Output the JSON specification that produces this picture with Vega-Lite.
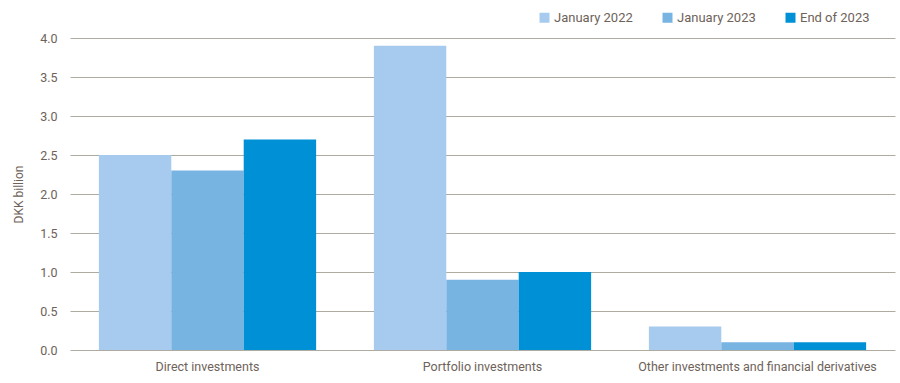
{
  "$schema": "https://vega.github.io/schema/vega-lite/v6.json",
  "width": 825,
  "height": 312,
  "autosize": {"type": "none"},
  "padding": {"left": 70, "top": 38, "right": 5, "bottom": 33},
  "background": "white",
  "config": {
    "view": {"stroke": null},
    "font": "Roboto"
  },
  "data": {
    "values": [
      {"category": "Direct investments", "series": "January 2022", "value": 2.5},
      {"category": "Direct investments", "series": "January 2023", "value": 2.3},
      {"category": "Direct investments", "series": "End of 2023", "value": 2.7},
      {"category": "Portfolio investments", "series": "January 2022", "value": 3.9},
      {"category": "Portfolio investments", "series": "January 2023", "value": 0.9},
      {"category": "Portfolio investments", "series": "End of 2023", "value": 1.0},
      {"category": "Other investments and financial derivatives", "series": "January 2022", "value": 0.3},
      {"category": "Other investments and financial derivatives", "series": "January 2023", "value": 0.1},
      {"category": "Other investments and financial derivatives", "series": "End of 2023", "value": 0.1}
    ]
  },
  "mark": {"type": "bar"},
  "encoding": {
    "x": {
      "field": "category",
      "type": "nominal",
      "sort": null,
      "scale": {"paddingInner": 0.21, "paddingOuter": 0.105},
      "axis": {
        "title": null,
        "labelAngle": 0,
        "domain": false,
        "ticks": false,
        "labelPadding": 10,
        "labelFontSize": 12.5,
        "labelColor": "#6e6259",
        "labelLimit": 400
      }
    },
    "xOffset": {
      "field": "series",
      "type": "nominal",
      "sort": ["January 2022", "January 2023", "End of 2023"],
      "scale": {"paddingInner": 0, "paddingOuter": 0}
    },
    "y": {
      "field": "value",
      "type": "quantitative",
      "scale": {"domain": [0, 4], "nice": false},
      "axis": {
        "title": "DKK billion",
        "titleFontSize": 12,
        "titleFontWeight": "normal",
        "titleColor": "#6e6259",
        "titlePadding": 14,
        "values": [0, 0.5, 1, 1.5, 2, 2.5, 3, 3.5, 4],
        "format": ".1f",
        "domain": false,
        "ticks": false,
        "labelPadding": 13,
        "labelFontSize": 12.5,
        "labelColor": "#6e6259",
        "gridColor": "#aeaba0",
        "gridWidth": 1
      }
    },
    "color": {
      "field": "series",
      "type": "nominal",
      "sort": ["January 2022", "January 2023", "End of 2023"],
      "scale": {
        "domain": ["January 2022", "January 2023", "End of 2023"],
        "range": ["#a6cbee", "#78b4e2", "#0090d5"]
      },
      "legend": {
        "title": null,
        "orient": "none",
        "legendX": 468,
        "legendY": -27,
        "direction": "horizontal",
        "symbolType": "square",
        "symbolSize": 100,
        "symbolStrokeWidth": 0,
        "labelFontSize": 13,
        "labelColor": "#6e6259",
        "labelOffset": 3,
        "columnPadding": 28
      }
    }
  }
}
